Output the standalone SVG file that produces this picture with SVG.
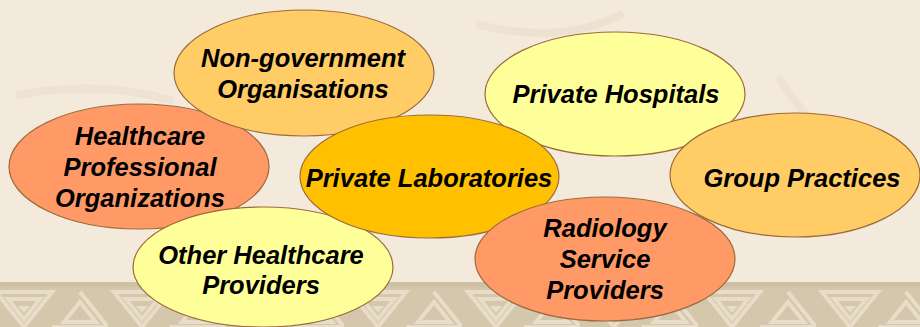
<svg xmlns="http://www.w3.org/2000/svg" width="920" height="327" viewBox="0 0 920 327">
  <defs>
    <style>
      .node ellipse { stroke: #9C6B3A; stroke-width: 1.2; }
      .lbl { font-family: "Liberation Sans", Arial, sans-serif; font-weight: bold; font-style: italic; font-size: 25.5px; fill: #000; text-anchor: middle; }
      .c1 { fill: #FFCC66; }
      .c2 { fill: #FFFF99; }
      .c3 { fill: #FF9966; }
      .c4 { fill: #FFC000; }
    </style>
    <pattern id="band" x="-10" y="282" width="118" height="45" patternUnits="userSpaceOnUse">
      <rect width="118" height="45" fill="#D5C7AB"/>
      <path d="M6 10 L62 10 L34 45 Z M18 17 L50 17 L34 37 Z M62 45 L118 45 L90 10 M74 40 L106 40 L90 20 Z" fill="none" stroke="#E8DDC8" stroke-width="4"/>
      <path d="M28 24 L40 24 L34 31 Z" fill="#E8DDC8"/>
    </pattern>
  </defs>
  <rect width="920" height="327" fill="#F4EADB"/>
  <g opacity="0.25" fill="none" stroke="#DCCDB6" stroke-width="8" stroke-linecap="round">
    <path d="M20 95 Q100 80 170 100"/>
    <path d="M480 25 Q560 45 620 15"/>
    <path d="M780 80 Q820 140 880 180"/>
  </g>
  <rect x="0" y="282" width="920" height="45" fill="url(#band)"/>
  <rect x="0" y="282" width="920" height="5" fill="#CFC1A4"/>

  <g id="healthcare-professional-organizations" class="node">
    <ellipse class="c3" cx="139" cy="166.5" rx="130" ry="62.5"/>
    <text class="lbl" x="140" y="145">Healthcare</text>
    <text class="lbl" x="140" y="176">Professional</text>
    <text class="lbl" x="140" y="207">Organizations</text>
  </g>
  <g id="non-government-organisations" class="node">
    <ellipse class="c1" cx="304" cy="73" rx="130" ry="63"/>
    <text class="lbl" x="303" y="67">Non-government</text>
    <text class="lbl" x="303" y="98">Organisations</text>
  </g>
  <g id="private-hospitals" class="node">
    <ellipse class="c2" cx="615" cy="94" rx="130" ry="62"/>
    <text class="lbl" x="616" y="103">Private Hospitals</text>
  </g>
  <g id="other-healthcare-providers" class="node">
    <ellipse class="c2" cx="263" cy="267" rx="130" ry="60"/>
    <text class="lbl" x="261" y="264">Other Healthcare</text>
    <text class="lbl" x="261" y="294">Providers</text>
  </g>
  <g id="private-laboratories" class="node">
    <ellipse class="c4" cx="429.5" cy="176.5" rx="129.5" ry="61.5"/>
    <text class="lbl" x="429" y="187">Private Laboratories</text>
  </g>
  <g id="group-practices" class="node">
    <ellipse class="c1" cx="795" cy="175" rx="125" ry="62"/>
    <text class="lbl" x="802" y="187">Group Practices</text>
  </g>
  <g id="radiology-service-providers" class="node">
    <ellipse class="c3" cx="605" cy="259" rx="130" ry="62"/>
    <text class="lbl" x="605" y="237">Radiology</text>
    <text class="lbl" x="605" y="268">Service</text>
    <text class="lbl" x="605" y="299">Providers</text>
  </g>
  <g id="connectors"/>
</svg>
